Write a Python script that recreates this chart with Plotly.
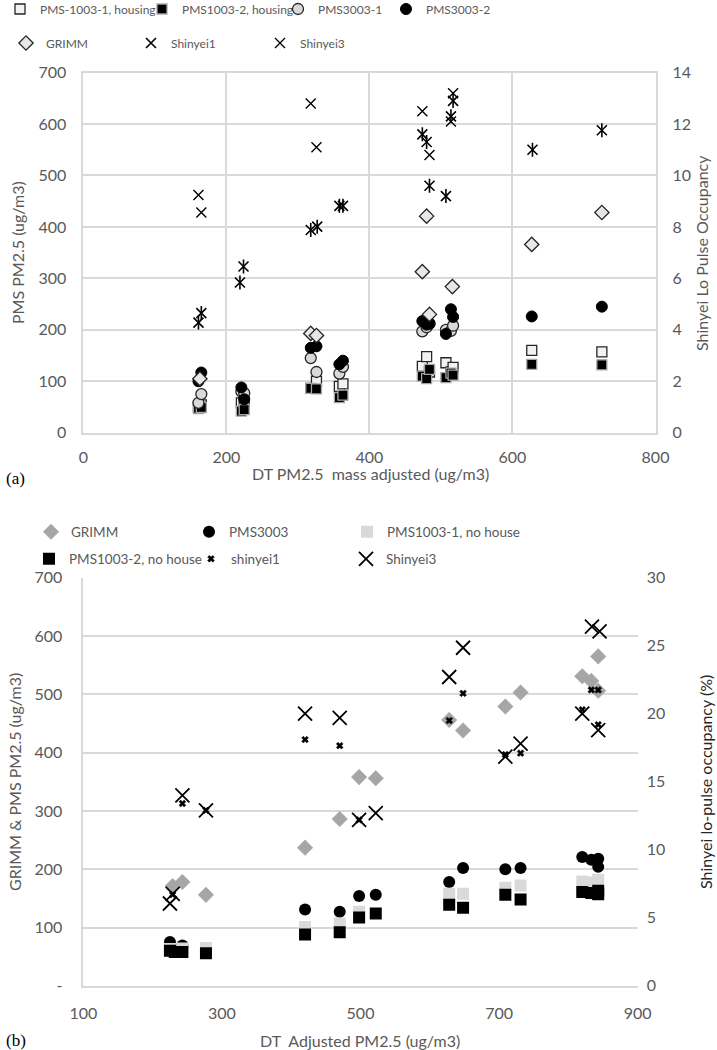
import plotly.graph_objects as go

# ---------------- Panel (a) data ----------------
a_pms1003_1_x = [161, 165, 221, 225, 318, 326, 358, 363, 474, 480, 484, 507, 514, 517, 627, 725]
a_pms1003_1_y = [50, 54, 58, 60, 86, 100, 90, 95, 129, 148, 118, 136, 118, 127, 160, 157]

a_pms1003_2_x = [161, 165, 221, 225, 318, 326, 358, 363, 474, 480, 484, 507, 514, 517, 627, 725]
a_pms1003_2_y = [47, 49, 42, 45, 86, 85, 68, 73, 110, 105, 123, 107, 116, 112, 133, 132]

a_pms3003_1_x = [161, 165, 221, 225, 318, 326, 358, 363, 474, 480, 484, 507, 514, 517]
a_pms3003_1_y = [58, 75, 80, 77, 145, 118, 115, 128, 197, 205, 212, 200, 198, 208]

a_pms3003_2_x = [161, 165, 221, 225, 318, 326, 358, 363, 474, 480, 484, 507, 514, 517, 627, 725]
a_pms3003_2_y = [100, 117, 88, 65, 165, 168, 133, 140, 217, 210, 212, 192, 240, 225, 226, 245]

a_grimm_x = [163, 318, 326, 474, 480, 484, 516, 627, 725]
a_grimm_y = [105, 193, 189, 313, 421, 230, 284, 366, 428]

a_shinyei1_x = [161, 165, 219, 224, 318, 327, 358, 363, 474, 480, 484, 507, 514, 517, 628, 725]
a_shinyei1_y = [4.28, 4.65, 5.84, 6.46, 7.88, 8.01, 8.82, 8.82, 11.6, 11.3, 9.6, 9.2, 12.3, 12.9, 11.0, 11.76]

a_shinyei3_x = [161, 165, 318, 326, 474, 484, 514, 517]
a_shinyei3_y = [9.24, 8.56, 12.8, 11.1, 12.5, 10.8, 12.1, 13.2]

# ---------------- Panel (b) data ----------------
b_grimm_x = [229, 243, 277, 420, 470, 498, 522, 628, 648, 709, 731, 820, 833, 843, 843]
b_grimm_y = [171, 178, 156, 237, 286, 358, 356, 456, 438, 479, 503, 531, 523, 565, 506]

b_pms3003_x = [225, 243, 420, 470, 498, 522, 628, 648, 709, 731, 820, 833, 843, 843]
b_pms3003_y = [75, 69, 131, 127, 154, 156, 178, 202, 200, 202, 221, 216, 218, 204]

b_pms1003_1_x = [225, 243, 277, 420, 470, 498, 628, 648, 709, 731, 820, 833, 843]
b_pms1003_1_y = [63, 64, 65, 101, 107, 127, 158, 158, 168, 172, 179, 177, 182]

b_pms1003_2_x = [225, 232, 243, 277, 420, 470, 498, 522, 628, 648, 709, 731, 820, 833, 843, 843]
b_pms1003_2_y = [60, 58, 58, 56, 88, 92, 117, 124, 139, 134, 156, 148, 161, 159, 163, 157]

b_shinyei1_x = [229, 243, 277, 420, 470, 498, 628, 648, 709, 731, 820, 833, 843, 843]
b_shinyei1_y = [6.7, 13.4, 12.9, 18.1, 17.65, 12.2, 19.5, 21.5, 17.0, 17.1, 20.3, 21.75, 21.75, 19.2]

b_shinyei3_x = [225, 229, 243, 277, 420, 470, 498, 522, 628, 648, 709, 731, 820, 834, 845, 843]
b_shinyei3_y = [6.05, 6.75, 14.0, 12.9, 20.0, 19.7, 12.2, 12.7, 22.7, 24.85, 16.85, 17.8, 20.0, 26.4, 26.05, 18.8]

# tick labels
a_left_ticks = [0, 100, 200, 300, 400, 500, 600, 700]
a_right_ticks = [0, 2, 4, 6, 8, 10, 12, 14]
a_x_ticks = [0, 200, 400, 600, 800]
b_left_tickvals = [0, 100, 200, 300, 400, 500, 600, 700]
b_left_ticktext = ["-", "100", "200", "300", "400", "500", "600", "700"]
b_right_ticks = [0, 5, 10, 15, 20, 25, 30]
b_x_ticks = [100, 300, 500, 700, 900]

FONT = "Lato"
GRAY = "#595959"
GRID = "#d9d9d9"
W, H = 717, 1050

fig = go.Figure()
legend_layout = {}

# one legend per entry: (legend key, left position px, row centre y px, font size)
def add_legend(key, mx, my, size):
    legend_layout[key] = dict(
        orientation="h", bgcolor="rgba(0,0,0,0)", borderwidth=0,
        font=dict(family=FONT, size=size, color=GRAY), entrywidth=150,
        x=(mx - 20) / W, y=1 - my / H, xanchor="left", yanchor="middle",
        itemclick=False, itemdoubleclick=False)

def sc(x, y, name, xa, ya, leg, marker, showlegend=True, group=None):
    fig.add_trace(go.Scatter(
        x=x, y=y, name=name, mode="markers", xaxis=xa, yaxis=ya,
        legend=leg, marker=marker, showlegend=showlegend,
        legendgroup=group if group else name, hoverinfo="x+y+name"))

TOPLEG = 12
BOTLEG = 13.5

# ---- panel (a)
add_legend("legend", 20, 9, TOPLEG)
sc(a_pms1003_1_x, a_pms1003_1_y, "PMS-1003-1, housing", "x", "y", "legend",
   dict(symbol="square", size=10, color="#f2f2f2", line=dict(color="#262626", width=1.3)))
add_legend("legend2", 162, 9, TOPLEG)
sc(a_pms1003_2_x, a_pms1003_2_y, "PMS1003-2, housing", "x", "y", "legend2",
   dict(symbol="square", size=10, color="#000000", line=dict(color="#a6a6a6", width=1.3)))
add_legend("legend3", 298, 9, TOPLEG)
sc(a_pms3003_1_x, a_pms3003_1_y, "PMS3003-1", "x", "y", "legend3",
   dict(symbol="circle", size=11, color="#d9d9d9", line=dict(color="#262626", width=1.3)))
add_legend("legend4", 406, 9, TOPLEG)
sc(a_pms3003_2_x, a_pms3003_2_y, "PMS3003-2", "x", "y", "legend4",
   dict(symbol="circle", size=11, color="#000000", line=dict(color="#000000", width=1)))
add_legend("legend5", 26, 43, TOPLEG)
sc(a_grimm_x, a_grimm_y, "GRIMM", "x", "y", "legend5",
   dict(symbol="diamond", size=11, color="#e7e7e7", line=dict(color="#262626", width=1.3)))
add_legend("legend6", 151, 43, TOPLEG)
sc(a_shinyei1_x, a_shinyei1_y, "Shinyei1", "x", "y2", "legend6",
   dict(symbol="x-thin-open", size=10, color="#000000", line=dict(color="#000000", width=1.6)))
sc(a_shinyei1_x, a_shinyei1_y, "Shinyei1", "x", "y2", "legend6",
   dict(symbol="line-ns-open", size=10, color="#000000", line=dict(color="#000000", width=1.6)),
   showlegend=False, group="Shinyei1")
add_legend("legend7", 280, 43, TOPLEG)
sc(a_shinyei3_x, a_shinyei3_y, "Shinyei3", "x", "y2", "legend7",
   dict(symbol="x-thin-open", size=10, color="#000000", line=dict(color="#000000", width=1.4)))

# ---- panel (b)
add_legend("legend8", 51, 532, BOTLEG)
sc(b_grimm_x, b_grimm_y, "GRIMM ", "x2", "y3", "legend8",
   dict(symbol="diamond", size=12, color="#a6a6a6", line=dict(color="#a6a6a6", width=0.5)))
add_legend("legend9", 209, 532, BOTLEG)
sc(b_pms3003_x, b_pms3003_y, "PMS3003", "x2", "y3", "legend9",
   dict(symbol="circle", size=12, color="#000000"))
add_legend("legend10", 367, 532, BOTLEG)
sc(b_pms1003_1_x, b_pms1003_1_y, "PMS1003-1, no house", "x2", "y3", "legend10",
   dict(symbol="square", size=12, color="#d9d9d9"))
add_legend("legend11", 49, 559, BOTLEG)
sc(b_pms1003_2_x, b_pms1003_2_y, "PMS1003-2, no house", "x2", "y3", "legend11",
   dict(symbol="square", size=12, color="#000000"))
add_legend("legend12", 211, 559, BOTLEG)
sc(b_shinyei1_x, b_shinyei1_y, "shinyei1", "x2", "y4", "legend12",
   dict(symbol="x", size=6, color="#000000", line=dict(color="#000000", width=0.5)))
add_legend("legend13", 366, 559, BOTLEG)
sc(b_shinyei3_x, b_shinyei3_y, "Shinyei3 ", "x2", "y4", "legend13",
   dict(symbol="x-thin-open", size=14, color="#000000", line=dict(color="#000000", width=1.8)))

# domains (paper fractions)
ax_a = [83.3 / W, 655.5 / W]
ay_a = [1 - 432.7 / H, 1 - 72.6 / H]
ax_b = [83.3 / W, 637.7 / W]
ay_b = [1 - 985.8 / H, 1 - 577.7 / H]

tickfont = dict(family=FONT, size=16, color=GRAY)

fig.update_layout(
    width=W, height=H, margin=dict(l=0, r=0, t=0, b=0, autoexpand=False),
    paper_bgcolor="white", plot_bgcolor="white",
    font=dict(family=FONT, color=GRAY),
    xaxis=dict(domain=ax_a, anchor="y", range=[0, 800], tickvals=a_x_ticks,
               showgrid=True, gridcolor=GRID, gridwidth=1.5, zeroline=False,
               showline=True, linecolor=GRID, linewidth=1.5, mirror=True,
               ticks="", tickfont=tickfont, automargin=False, ticklabelstandoff=9),
    yaxis=dict(domain=ay_a, anchor="x", range=[0, 700], tickvals=a_left_ticks,
               showgrid=True, gridcolor=GRID, gridwidth=1.5, zeroline=False,
               showline=True, linecolor=GRID, linewidth=1.5, mirror=True,
               ticks="", tickfont=tickfont, automargin=False, ticklabelstandoff=12),
    yaxis2=dict(overlaying="y", side="right", anchor="x", range=[0, 14],
                tickvals=a_right_ticks, showgrid=False, zeroline=False,
                showline=False, ticks="", tickfont=tickfont, automargin=False,
                ticklabelstandoff=16),
    xaxis2=dict(domain=ax_b, anchor="y3", range=[100, 900], tickvals=b_x_ticks,
                showgrid=False, zeroline=False, showline=True, linecolor=GRID,
                linewidth=1.5, ticks="", tickfont=tickfont, automargin=False,
                ticklabelstandoff=12),
    yaxis3=dict(domain=ay_b, anchor="x2", range=[0, 700], tickvals=b_left_tickvals,
                ticktext=b_left_ticktext, showgrid=True, gridcolor=GRID, gridwidth=1.5,
                zeroline=False, showline=True, linecolor=GRID, linewidth=1.5,
                ticks="", tickfont=tickfont, automargin=False, ticklabelstandoff=16),
    yaxis4=dict(overlaying="y3", side="right", anchor="x2", range=[0, 30],
                tickvals=b_right_ticks, showgrid=False, zeroline=False,
                showline=False, ticks="", tickfont=tickfont, automargin=False,
                ticklabelstandoff=8),
    **legend_layout,
)

def ann(text, x, y, angle=0, size=16, color=GRAY, family=FONT, xanchor="center"):
    fig.add_annotation(text=text, x=x / W, y=1 - y / H, xref="paper", yref="paper",
                       showarrow=False, textangle=angle, xanchor=xanchor, yanchor="middle",
                       font=dict(family=family, size=size, color=color))

ann("PMS PM2.5 (ug/m3)", 18, 253, angle=-90)
ann("Shinyei Lo Pulse Occupancy", 702, 253, angle=-90)
ann("DT PM2.5  mass adjusted (ug/m3)", 370, 473)
ann("(a)", 4, 478, size=17, color="#000000", family="Liberation Serif", xanchor="left")

ann("GRIMM &amp; PMS PM2.5 (ug/m3)", 14, 782, angle=-90)
ann("Shinyei lo-pulse occupancy (%)", 705, 782, angle=-90, color="#262626")
ann("DT  Adjusted PM2.5 (ug/m3)", 360, 1040)
ann("(b)", 4, 1040, size=17, color="#000000", family="Liberation Serif", xanchor="left")

fig.write_html("out.html", config={"displayModeBar": False},
               post_script="document.body.style.margin='0';document.body.style.overflow='hidden';")
